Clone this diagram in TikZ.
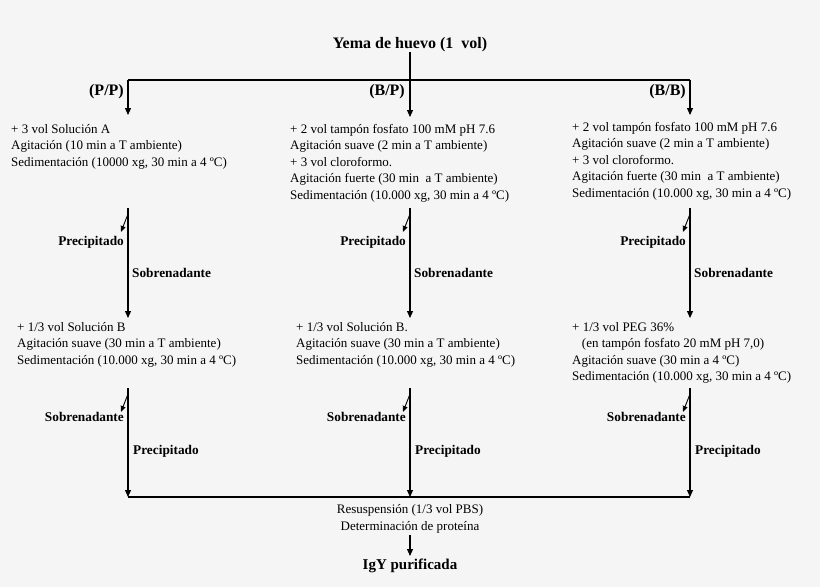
\documentclass[tikz,border=0pt]{standalone}
\usepackage{fontspec}
\setmainfont{Liberation Serif}
\usetikzlibrary{arrows.meta}
\begin{document}
\begin{tikzpicture}[x=1pt,y=-1pt,
  every node/.style={font=\fontsize{13}{16.5}\selectfont, inner sep=0pt},
  ln/.style={line width=1.1pt},
  ar/.style={ln,-{Triangle[length=7pt,width=6pt]}},
  sm/.style={line width=0.9pt,-{Triangle[length=6pt,width=5pt]}},
  blk/.style={align=left,anchor=north west},
  lb/.style={font=\bfseries\fontsize{13.3}{15}\selectfont},
  big/.style={font=\bfseries\fontsize{16}{18}\selectfont}]
\fill[white!96!black] (0,0) rectangle (820,587);
\useasboundingbox (0,0) rectangle (820,587);
\node[big] (top) at (410,45) {Yema de huevo (1\ \ vol)};
\coordinate (h0) at (410,80); \coordinate (hl) at (128,80); \coordinate (hr) at (690,80);
\draw[ln] (hl) -- (hr);
\node[blk] (a1) at (11,124) {+ 3 vol Solución A\\Agitación (10 min a T ambiente)\\Sedimentación (10000 xg, 30 min a 4 ºC)};
\node[blk] (b1) at (290,124) {+ 2 vol tampón fosfato 100 mM pH 7.6\\Agitación suave (2 min a T ambiente)\\+ 3 vol cloroformo.\\Agitación fuerte (30 min\ \ a T ambiente)\\Sedimentación (10.000 xg, 30 min a 4 ºC)};
\node[blk] (c1) at (572,122) {+ 2 vol tampón fosfato 100 mM pH 7.6\\Agitación suave (2 min a T ambiente)\\+ 3 vol cloroformo.\\Agitación fuerte (30 min\ \ a T ambiente)\\Sedimentación (10.000 xg, 30 min a 4 ºC)};
\draw[ar] (top.south) -- (410,117);
\draw[ar] (hl) -- (128,115);
\draw[ar] (hr) -- (690,115);
\node[big,anchor=east] (pp) at (124,92) {(P/P)};
\node[big,anchor=east] (bp) at (405,92) {(B/P)};
\node[big,anchor=east] (bb) at (686,92) {(B/B)};
\node[blk] (a2) at (17,322) {+ 1/3 vol Solución B\\Agitación suave (30 min a T ambiente)\\Sedimentación (10.000 xg, 30 min a 4 ºC)};
\node[blk] (b2) at (296,322) {+ 1/3 vol Solución B.\\Agitación suave (30 min a T ambiente)\\Sedimentación (10.000 xg, 30 min a 4 ºC)};
\node[blk] (c2) at (572,322) {+ 1/3 vol PEG 36\%\\\ \ \ (en tampón fosfato 20 mM pH 7,0)\\Agitación suave (30 min a 4 ºC)\\Sedimentación (10.000 xg, 30 min a 4 ºC)};
\foreach \x/\n in {128/a,410/b,690/c}{
  \coordinate (\n s1) at (\x,208);
  \coordinate (\n d1) at (\x-7,232);
  \draw[ar] (\n s1) -- (\x,318);
  \draw[sm] (\x,214) -- (\n d1);
  \node[lb,anchor=east] (\n p1) at (\x-4,242) {Precipitado};
  \node[lb,anchor=west] (\n q1) at (\x+4,273) {Sobrenadante};
  \coordinate (\n s2) at (\x,388);
  \coordinate (\n d2) at (\x-7,412);
  \draw[ar] (\n s2) -- (\x,497);
  \draw[sm] (\x,394) -- (\n d2);
  \node[lb,anchor=east] (\n p2) at (\x-4,417) {Sobrenadante};
  \node[lb,anchor=west] (\n q2) at (\x+5,451) {Precipitado};
}
\coordinate (bl) at (128,497); \coordinate (br) at (690,497);
\draw[ln] (bl) -- (br);
\node[align=center] (res) at (410,519) {Resuspensión (1/3 vol PBS)\\Determinación de proteína};
\node[big,font=\bfseries\fontsize{15}{17}\selectfont] (igy) at (410,566) {IgY purificada};
\draw[ar] (410,535) -- (410,556);
\end{tikzpicture}
\end{document}
